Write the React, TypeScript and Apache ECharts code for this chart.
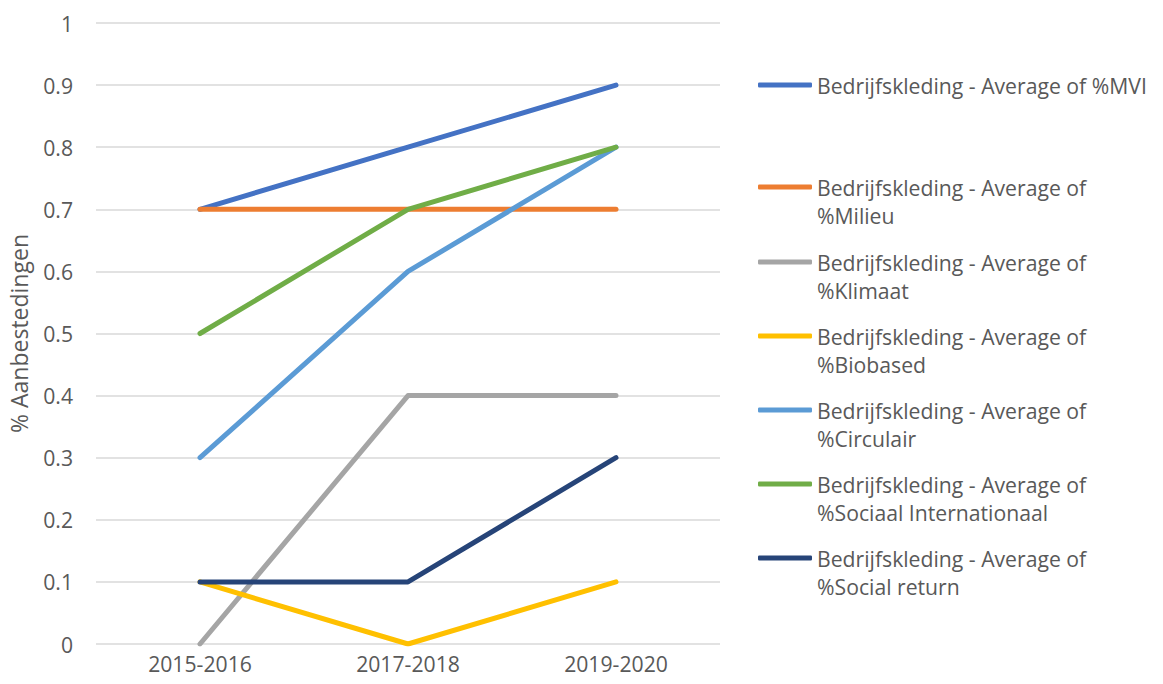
import React, { useEffect, useRef } from "react";
import * as echarts from "echarts";

const categories = ["2015-2016", "2017-2018", "2019-2020"];
const seriesNames = [
  "Bedrijfskleding - Average of %MVI",
  "Bedrijfskleding - Average of %Milieu",
  "Bedrijfskleding - Average of %Klimaat",
  "Bedrijfskleding - Average of %Biobased",
  "Bedrijfskleding - Average of %Circulair",
  "Bedrijfskleding - Average of %Sociaal Internationaal",
  "Bedrijfskleding - Average of %Social return",
];
const mvi = [0.7, 0.8, 0.9];
const milieu = [0.7, 0.7, 0.7];
const klimaat = [0, 0.4, 0.4];
const biobased = [0.1, 0, 0.1];
const circulair = [0.3, 0.6, 0.8];
const sociaalInt = [0.5, 0.7, 0.8];
const socialReturn = [0.1, 0.1, 0.3];
const seriesValues = [mvi, milieu, klimaat, biobased, circulair, sociaalInt, socialReturn];
const colors = ["#4472C4", "#ED7D31", "#A5A5A5", "#FFC000", "#5B9BD5", "#70AD47", "#264478"];

// legend layout: first-line centre y of each entry, and wrap
const legendY = [85, 187, 262, 336, 410, 484, 558];
const legendSplit = (name: string): [string, string] => {
  if (name === seriesNames[0]) return [name, ""];
  const idx = name.indexOf("%");
  return [name.slice(0, idx).trim(), name.slice(idx)];
};

const FONT = "'Open Sans', 'Noto Sans', sans-serif";
const TXT = "#595959";
const FS = 21.2;

export default function App() {
  const ref = useRef<HTMLDivElement>(null);
  useEffect(() => {
    const chart = echarts.init(ref.current!, null, { renderer: "svg" });
    const legends = seriesNames.map((n, i) => ({
      show: true,
      data: [n],
      orient: "vertical",
      left: 758,
      top: legendY[i] - 14,
      itemWidth: 54,
      itemHeight: 5,
      icon: "roundRect",
      itemGap: 0,
      padding: 0,
      selectedMode: false,
      formatter: (name: string) => legendSplit(name)[0],
      textStyle: { color: TXT, fontSize: FS, fontFamily: FONT, lineHeight: 28 },
    }));
    const secondLines = seriesNames
      .map((n, i) => ({ t: legendSplit(n)[1], i }))
      .filter((o) => o.t)
      .map((o) => ({
        type: "text",
        left: 817,
        top: legendY[o.i] + 28 - 14,
        style: {
          text: o.t,
          fill: TXT,
          fontSize: FS,
          fontFamily: FONT,
          lineHeight: 28,
        },
      }));
    chart.setOption({
      animation: false,
      color: colors,
      grid: { left: 96, right: 443, top: 23, bottom: 40, containLabel: false, outerBoundsMode: "none" },
      legend: legends,
      graphic: secondLines,
      xAxis: {
        type: "category",
        data: categories,
        boundaryGap: true,
        axisLine: { show: false },
        axisTick: { show: false },
        axisLabel: { color: TXT, fontSize: FS, fontFamily: FONT, margin: 9 },
      },
      yAxis: {
        type: "value",
        min: 0,
        max: 1,
        interval: 0.1,
        name: "% Aanbestedingen",
        nameLocation: "middle",
        nameRotate: 90,
        nameGap: 66,
        nameTextStyle: { color: TXT, fontSize: 23, fontFamily: FONT },
        axisLine: { show: false },
        axisTick: { show: false },
        axisLabel: {
          color: TXT,
          fontSize: FS,
          fontFamily: FONT,
          margin: 23,
          formatter: (v: number) => String(Math.round(v * 10) / 10),
        },
        splitLine: { lineStyle: { color: "#D9D9D9", width: 1.5 } },
      },
      series: seriesNames.map((n, i) => ({
        name: n,
        type: "line",
        data: seriesValues[i],
        symbol: "none",
        lineStyle: { width: 5, color: colors[i], cap: "round", join: "round" },
        itemStyle: { color: colors[i] },
      })),
    });
    return () => chart.dispose();
  }, []);
  return (
    <div
      ref={ref}
      style={{ position: "absolute", left: 0, top: 0, width: 1163, height: 684, background: "#fff" }}
    />
  );
}
